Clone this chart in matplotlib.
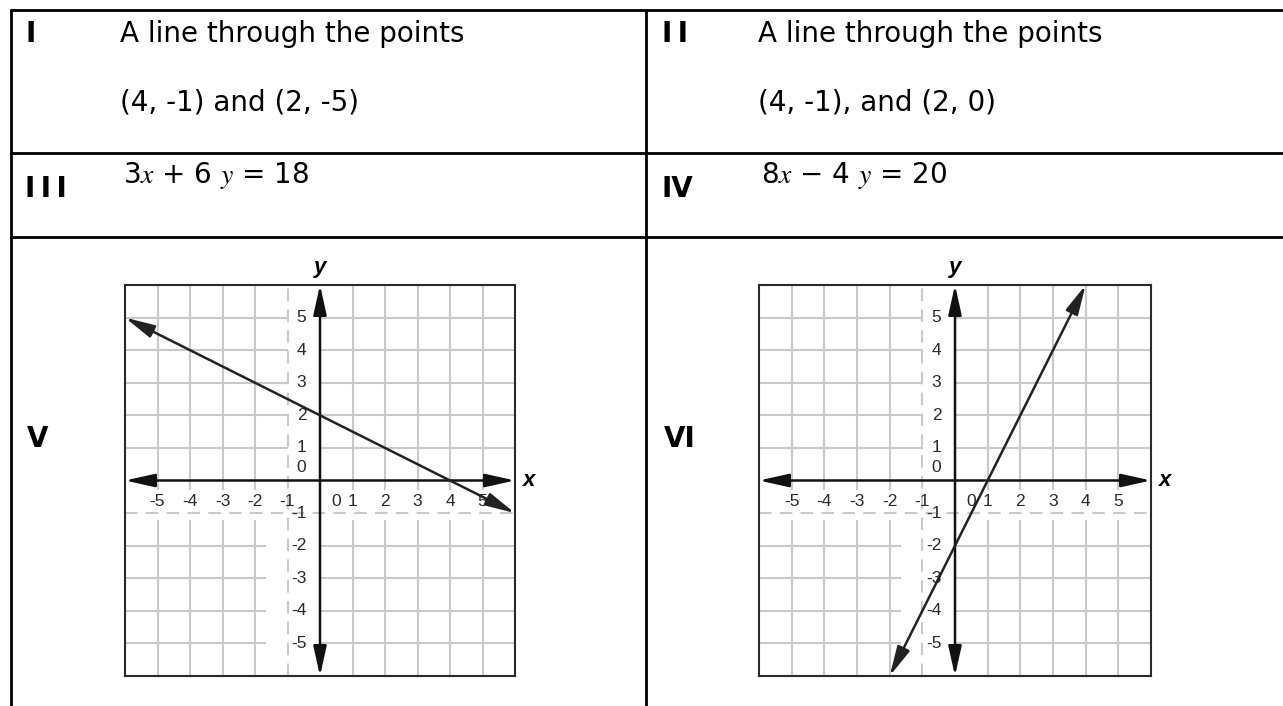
import matplotlib
matplotlib.use('Agg')
import matplotlib.pyplot as plt

plt.rcParams['mathtext.fontset'] = 'stix'
plt.rcParams['font.family'] = ['DejaVu Sans']

# ---------------- data ----------------
row_labels_left = ['I', 'I\u2009I\u2009I', 'V']
row_labels_right = ['I\u2009I', 'IV', 'VI']
cell_line1 = ['A line through the points', 'A line through the points']
cell_line2 = ['(4, -1) and (2, -5)', '(4, -1), and (2, 0)']
equations = ['3$x$ + 6 $y$ = 18', '8$x$ \u2212 4 $y$ = 20']
tick_values = [-5, -4, -3, -2, -1, 1, 2, 3, 4, 5]
axis_limit = 6
graph_v_x = [-6, 6]
graph_v_y = [5, -1]
graph_vi_x = [-2, 4]
graph_vi_y = [-6, 6]

# ---------------- figure ----------------
W, H = 1283, 706
fig = plt.figure(figsize=(W / 100, H / 100), dpi=100)
bg = fig.add_axes([0, 0, 1, 1])
bg.set_xlim(0, W)
bg.set_ylim(H, 0)
bg.axis('off')

lw_t = 2.0
kw = dict(color='black', lw=lw_t, solid_capstyle='butt')
for yy in (9.5, 152.5, 236.5):
    bg.plot([9.5, W], [yy, yy], **kw)
for xx in (10.5, 646):
    bg.plot([xx, xx], [8.5, H], **kw)

col_label_x = [25, 662]
col_text_x = [120, 758]
fs = 20
for i in range(2):
    bg.text(col_label_x[i], 42, [row_labels_left, row_labels_right][i][0],
            fontsize=fs, fontweight='bold', ha='left', va='baseline')
    bg.text(col_text_x[i], 42, cell_line1[i], fontsize=fs, ha='left', va='baseline')
    bg.text(col_text_x[i], 110, cell_line2[i], fontsize=fs, ha='left', va='baseline')
    bg.text(col_label_x[i], 197, [row_labels_left, row_labels_right][i][1],
            fontsize=fs, fontweight='bold', ha='left', va='baseline')
    bg.text(col_text_x[i] + 3, 183, equations[i], fontsize=fs, ha='left', va='baseline')
    bg.text(col_label_x[i] + 2, 447, [row_labels_left, row_labels_right][i][2],
            fontsize=fs, fontweight='bold', ha='left', va='baseline')


def draw_graph(rect_px, xs, ys):
    l, t, r, b = rect_px
    ax = fig.add_axes([l / W, 1 - b / H, (r - l) / W, (b - t) / H])
    lim = axis_limit
    ax.set_xlim(-lim, lim)
    ax.set_ylim(-lim, lim)
    ax.set_xticks([])
    ax.set_yticks([])
    for s in ax.spines.values():
        s.set_color('#2a2a2a')
        s.set_linewidth(1.5)
        s.set_zorder(6)
    gc = '#c9c9c9'
    for v in tick_values:
        if v == -1:
            continue
        ax.axvline(v, color=gc, lw=1.5, zorder=1)
        ax.axhline(v, color=gc, lw=1.5, zorder=1)
    # white label areas
    ax.fill_between([-lim, lim], -1.22, -0.28, color='white', lw=0, zorder=2)
    ax.fill_between([-0.97, -0.03], 0.28, lim, color='white', lw=0, zorder=2)
    ax.fill_between([-1.66, -0.03], -lim, -0.28, color='white', lw=0, zorder=2)
    # dashed grid lines at -1
    ax.axvline(-1, color=gc, lw=1.5, ls=(0, (6, 4)), zorder=3)
    ax.axhline(-1, color=gc, lw=1.5, ls=(0, (6, 4)), zorder=3)
    # tick labels
    tkw = dict(fontsize=12.5, family='Liberation Sans', color='#2a2a2a', zorder=4)
    for v in tick_values:
        ax.text(v, -0.65, str(v), ha='center', va='center', **tkw)
        ax.text(-0.42, v, str(v), ha='right', va='center', **tkw)
    ax.text(0.5, -0.65, '0', ha='center', va='center', **tkw)
    ax.text(-0.42, 0.4, '0', ha='right', va='center', **tkw)
    # axes with arrows
    astyle = '<|-|>,head_length=0.9,head_width=0.2'
    akw = dict(arrowstyle=astyle, color='#111111', lw=1.8, shrinkA=0, shrinkB=0,
               mutation_scale=20)
    ax.annotate('', xy=(lim, 0), xytext=(-lim, 0), arrowprops=akw, zorder=5)
    ax.annotate('', xy=(0, lim), xytext=(0, -lim), arrowprops=akw, zorder=5)
    # the graphed line
    lkw = dict(arrowstyle=astyle, color='#222222', lw=1.8, shrinkA=0, shrinkB=0,
               mutation_scale=20)
    ax.annotate('', xy=(xs[1], ys[1]), xytext=(xs[0], ys[0]), arrowprops=lkw, zorder=6)
    # axis names
    nkw = dict(fontsize=16, family='Liberation Sans', fontweight='bold', style='italic',
               color='black')
    ax.text(0, lim + 0.55, 'y', ha='center', va='center', **nkw)
    ax.text(lim + 0.25, 0, 'x', ha='left', va='center', **nkw)
    return ax


draw_graph((125, 285, 515, 676), graph_v_x, graph_v_y)
draw_graph((759, 285, 1151, 676), graph_vi_x, graph_vi_y)

fig.savefig('out.png', dpi=100, facecolor='white')
